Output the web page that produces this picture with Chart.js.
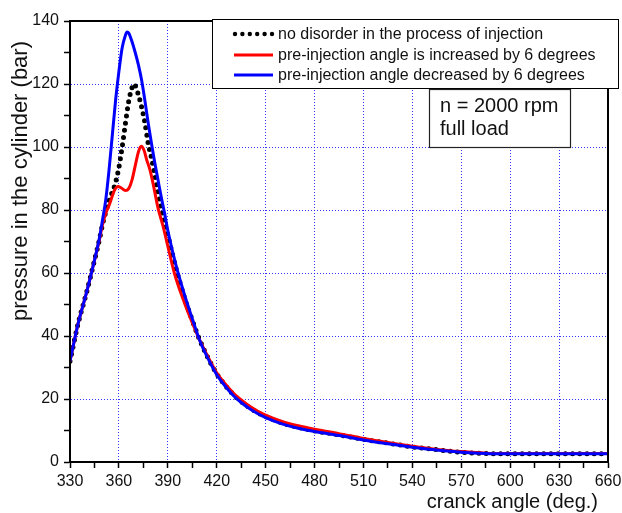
<!DOCTYPE html>
<html>
<head>
<meta charset="utf-8">
<script src="https://cdn.jsdelivr.net/npm/chart.js@4"></script>
<style>
  html, body { margin: 0; padding: 0; background: #fff; }
  #wrap { width: 622px; height: 513px; }
</style>
</head>
<body>
<div id="wrap"><canvas id="grafico" width="622" height="513"></canvas></div>
<script>
// crank angle (deg.) and cylinder pressure (bar)
const angleNormal = [330, 335, 340, 345, 348, 350, 352, 354, 356, 358, 360, 362, 364, 366, 368, 369, 370, 372, 374, 376, 378, 380, 382, 384, 386, 388, 390, 395, 400, 405, 410, 415, 420, 425, 430, 435, 440, 445, 450, 460, 470, 480, 495, 510, 525, 540, 555, 570, 585, 600, 630, 660];
const pressNormal = [32, 44, 53.5, 64, 70.5, 75.5, 79.5, 83, 85.8, 88.8, 93.5, 100, 107.5, 114.5, 118.8, 120, 119.6, 116.5, 112.5, 107.5, 101, 96.5, 91, 85.5, 80.5, 76, 72, 61.5, 52.5, 45, 38.2, 32.7, 28, 24.5, 21.5, 19.2, 17.3, 15.7, 14.4, 12.4, 11, 9.9, 8.6, 7.2, 6, 4.8, 3.9, 3.1, 2.7, 2.6, 2.6, 2.6];

const angleIncreased = [330, 335, 340, 345, 348, 350, 352, 354, 356, 357.5, 359.5, 361.5, 364, 366, 368, 370, 372, 373.7, 375.5, 377, 379, 381, 384, 387, 390, 394, 400, 405, 410, 415, 420, 425, 430, 435, 440, 445, 450, 460, 470, 480, 495, 510, 525, 540, 555, 570, 585, 600, 630, 660];
const pressIncreased = [32, 44, 53.5, 64, 70.5, 75.5, 79, 81.5, 84.5, 86.5, 87.5, 87, 86.2, 86.8, 89.5, 94, 98.5, 100.2, 98.8, 96, 92.8, 88.3, 80.6, 75, 68.5, 60, 50.8, 44.2, 38.2, 33, 28.3, 24.9, 22, 19.7, 17.8, 16.2, 14.9, 12.9, 11.5, 10.4, 9, 7.5, 6.2, 5, 4, 3.3, 2.8, 2.7, 2.7, 2.7];

const angleDecreased = [330, 335, 340, 345, 348, 350, 352, 354, 356, 358, 360, 362, 364, 365, 366, 368, 370, 372, 374, 376, 378, 380, 382, 384, 386, 388, 390, 395, 400, 405, 410, 415, 420, 425, 430, 435, 440, 445, 450, 460, 470, 480, 495, 510, 525, 540, 555, 570, 585, 600, 630, 660];
const pressDecreased = [32, 44, 53.5, 64, 71, 77, 83.5, 93, 104, 115, 124, 131.5, 135.5, 136.5, 136.2, 133.5, 130, 126, 121, 114.5, 107.5, 101, 95, 89.5, 84, 79, 73.5, 62.5, 53.5, 45.5, 38, 32.5, 27.7, 24.2, 21.2, 18.9, 17, 15.4, 14.1, 12.1, 10.7, 9.7, 8.4, 7, 5.8, 4.7, 3.8, 3.1, 2.7, 2.6, 2.6, 2.6];

const seriesNames = [
  'no disorder in the process of injection',
  'pre-injection angle is increased by 6 degrees',
  'pre-injection angle decreased by 6 degrees'
];
const noteLines = ['n = 2000 rpm', 'full load'];
const xTitle = 'cranck angle (deg.)';
const yTitle = 'pressure in the cylinder (bar)';

const FONT = '"Liberation Sans", Arial, sans-serif';

function punti(xs, ys) {
  return xs.map((x, i) => ({ x: x, y: ys[i] }));
}

// cornice, titoli degli assi, legenda e riquadro di testo
const decorazioni = {
  id: 'decorazioni',
  afterDraw(chart) {
    const ctx = chart.ctx;
    const a = chart.chartArea;
    ctx.save();
    ctx.strokeStyle = '#000';
    ctx.lineWidth = 2;
    ctx.strokeRect(a.left, a.top, a.right - a.left, a.bottom - a.top);

    ctx.fillStyle = '#111';
    ctx.font = '20px ' + FONT;
    ctx.textAlign = 'right';
    ctx.textBaseline = 'alphabetic';
    ctx.fillText(xTitle, 598, 508);

    ctx.save();
    ctx.translate(21, 181);
    ctx.rotate(-Math.PI / 2);
    ctx.textAlign = 'center';
    ctx.textBaseline = 'middle';
    ctx.font = '22px ' + FONT;
    ctx.fillText(yTitle, 0, 0);
    ctx.restore();

    // legenda
    ctx.fillStyle = '#fff';
    ctx.fillRect(212.5, 19.5, 406, 69);
    ctx.strokeStyle = '#000';
    ctx.lineWidth = 1;
    ctx.strokeRect(212.5, 19.5, 406, 69);
    const righe = [34, 55, 75];
    ctx.fillStyle = '#000';
    for (let i = 0; i < 6; i++) {
      ctx.beginPath();
      ctx.arc(235 + i * 7.4, righe[0], 2.2, 0, Math.PI * 2);
      ctx.fill();
    }
    ctx.lineWidth = 3;
    ctx.strokeStyle = '#ff0000';
    ctx.beginPath(); ctx.moveTo(234, righe[1]); ctx.lineTo(273, righe[1]); ctx.stroke();
    ctx.strokeStyle = '#0000ff';
    ctx.beginPath(); ctx.moveTo(234, righe[2]); ctx.lineTo(273, righe[2]); ctx.stroke();
    ctx.fillStyle = '#111';
    ctx.font = '16px ' + FONT;
    ctx.textAlign = 'left';
    ctx.textBaseline = 'middle';
    seriesNames.forEach((n, i) => ctx.fillText(n, 278, righe[i] + 1));

    // riquadro n = 2000 rpm
    ctx.fillStyle = '#fff';
    ctx.fillRect(429.5, 89.5, 141, 58);
    ctx.strokeStyle = '#222';
    ctx.lineWidth = 1.2;
    ctx.strokeRect(429.5, 89.5, 141, 58);
    ctx.fillStyle = '#111';
    ctx.font = '20px ' + FONT;
    ctx.fillText(noteLines[0], 440, 106);
    ctx.fillText(noteLines[1], 440, 129);
    ctx.restore();
  }
};

const gridColor = step => c => (c.tick && c.tick.value % step === 0) ? 'rgba(0,0,255,0.8)' : 'rgba(0,0,0,0)';

new Chart('grafico', {
  type: 'line',
  data: {
    datasets: [
      {
        label: seriesNames[0],
        data: punti(angleNormal, pressNormal),
        borderColor: '#000',
        borderWidth: 5,
        borderDash: [0, 7.2],
        borderCapStyle: 'round',
        order: 2
      },
      {
        label: seriesNames[1],
        data: punti(angleIncreased, pressIncreased),
        borderColor: '#ff0000',
        borderWidth: 3,
        order: 1
      },
      {
        label: seriesNames[2],
        data: punti(angleDecreased, pressDecreased),
        borderColor: '#0000ff',
        borderWidth: 3,
        order: 0
      }
    ]
  },
  options: {
    responsive: false,
    animation: false,
    devicePixelRatio: 1,
    layout: { padding: { top: 21, right: 14, left: 0, bottom: 0 } },
    elements: {
      point: { radius: 0 },
      line: { cubicInterpolationMode: 'monotone', fill: false }
    },
    plugins: {
      legend: { display: false },
      tooltip: { enabled: false },
      title: { display: false }
    },
    scales: {
      x: {
        type: 'linear',
        min: 330,
        max: 660,
        afterFit: s => { s.height = 51; s.paddingLeft = 0; s.paddingRight = 0; },
        ticks: {
          stepSize: 15,
          autoSkip: false,
          maxRotation: 0,
          padding: 4,
          color: '#111',
          font: { family: FONT, size: 16 },
          callback: v => (v % 30 === 0 ? String(v) : '')
        },
        grid: {
          color: gridColor(30),
          lineWidth: 1,
          tickLength: 6,
          tickColor: '#000',
          tickWidth: 1.5,
          tickBorderDash: []
        },
        border: { display: true, color: '#000', width: 2, dash: [1, 2] }
      },
      y: {
        type: 'linear',
        min: 0,
        max: 140,
        afterFit: s => { s.width = 70; s.paddingTop = 0; s.paddingBottom = 0; },
        ticks: {
          stepSize: 10,
          autoSkip: false,
          padding: 5,
          color: '#111',
          font: { family: FONT, size: 16 },
          callback: v => (v % 20 === 0 ? String(v) : '')
        },
        grid: {
          color: gridColor(20),
          lineWidth: 1,
          tickLength: 6,
          tickColor: '#000',
          tickWidth: 1.5,
          tickBorderDash: []
        },
        border: { display: true, color: '#000', width: 2, dash: [1, 2] }
      }
    }
  },
  plugins: [decorazioni]
});
</script>
</body>
</html>
